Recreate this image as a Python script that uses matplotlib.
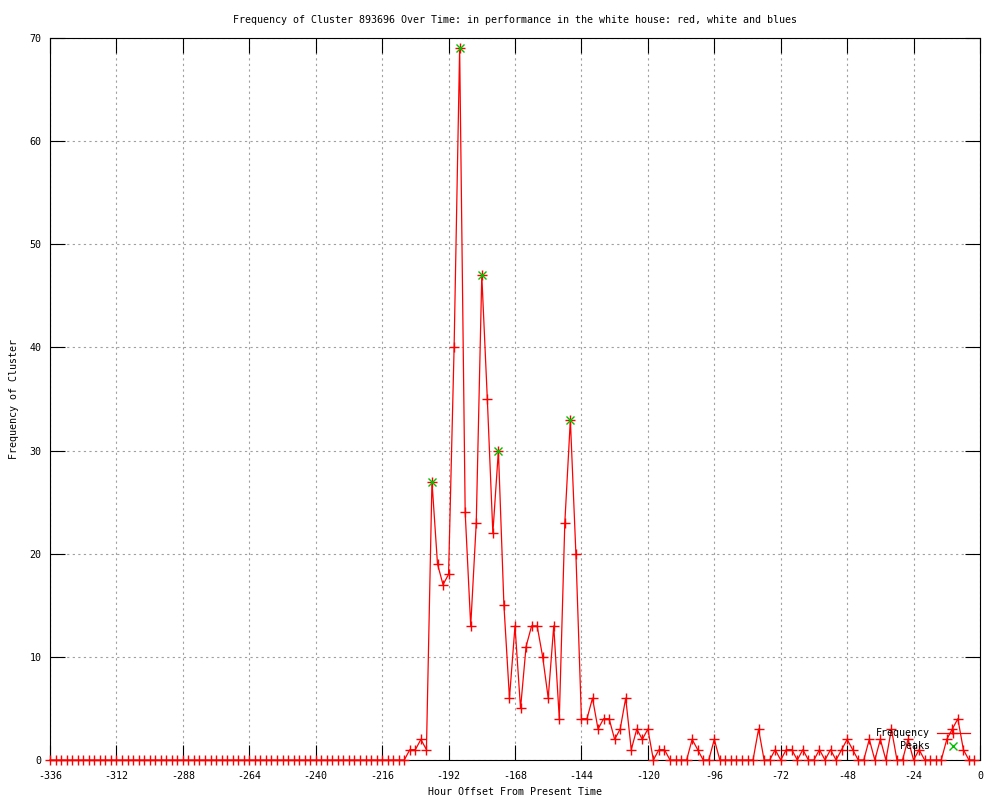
import matplotlib
matplotlib.use("Agg")
import matplotlib.pyplot as plt
import numpy as np

plt.rcParams["font.family"] = "DejaVu Sans Mono"
plt.rcParams["axes.unicode_minus"] = False

# 2-hour bins from -336 to -2
hours = list(range(-336, 0, 2))
counts_tail = [
    1, 1, 2, 1, 27, 19, 17, 18, 40, 69, 24, 13, 23, 47, 35, 22, 30, 15, 6, 13,
    5, 11, 13, 13, 10, 6, 13, 4, 23, 33, 20, 4, 4, 6, 3, 4, 4, 2, 3, 6,
    1, 3, 2, 3, 0, 1, 1, 0, 0, 0, 0, 2, 1, 0, 0, 2, 0, 0, 0, 0,
    0, 0, 0, 3, 0, 0, 1, 0, 1, 1, 0, 1, 0, 0, 1, 0, 1, 0, 1, 2,
    1, 0, 0, 2, 0, 2, 0, 3, 0, 0, 2, 0, 1, 0, 0, 0, 0, 2, 3, 4,
    1, 0, 0,
]
# everything before -206 is zero
counts = [0] * (len(hours) - len(counts_tail)) + counts_tail

peak_hours = [-198, -188, -180, -174, -148]
peak_counts = [27, 69, 47, 30, 33]

xticks = list(range(-336, 1, 24))
yticks = list(range(0, 71, 10))

fig = plt.figure(figsize=(10, 8), dpi=100, facecolor="white")
ax = fig.add_axes([0.05, 0.05, 0.93, 0.9025])

ax.plot(hours, counts, color="#ff0000", linewidth=0.9, marker="+",
        markersize=6.5, markeredgewidth=1.0, zorder=3, clip_on=False)
ax.plot(peak_hours, peak_counts, linestyle="none", color="#00c000",
        marker="x", markersize=5.5, markeredgewidth=1.0, zorder=4)

ax.set_xlim(-336, 0)
ax.set_ylim(0, 70)
ax.set_xticks(xticks)
ax.set_yticks(yticks)
ax.grid(True, color="#a0a0a0", linestyle=(0, (2, 3)), linewidth=0.8)
ax.set_axisbelow(True)
ax.tick_params(axis="x", pad=8)
ax.tick_params(axis="y", pad=6)
ax.tick_params(direction="in", length=11, width=0.8, top=True, right=True,
               labelsize=7.2, colors="black")
for spine in ax.spines.values():
    spine.set_linewidth(0.8)
    spine.set_color("black")

ax.set_title("Frequency of Cluster 893696 Over Time: in performance in the white house: red, white and blues",
             fontsize=7.2, pad=11)
ax.set_xlabel("Hour Offset From Present Time", fontsize=7.2, labelpad=4)
ax.set_ylabel("Frequency of Cluster", fontsize=7.2, labelpad=8)

# gnuplot-style key: text right-aligned, sample on the right
ax.text(0.946, 0.0374, "Frequency", transform=ax.transAxes, ha="right",
        va="center", fontsize=7.2)
ax.text(0.946, 0.0194, "Peaks", transform=ax.transAxes, ha="right",
        va="center", fontsize=7.2)
ax.plot([0.954, 0.989], [0.0374, 0.0374], transform=ax.transAxes,
        color="#ff0000", linewidth=0.9, clip_on=False)
ax.plot([0.971], [0.0374], transform=ax.transAxes, color="#ff0000",
        marker="+", markersize=6.5, markeredgewidth=1.0, clip_on=False)
ax.plot([0.971], [0.0194], transform=ax.transAxes, color="#00c000",
        marker="x", markersize=5.5, markeredgewidth=1.0, clip_on=False)

fig.savefig("out.png", dpi=100, facecolor="white")
